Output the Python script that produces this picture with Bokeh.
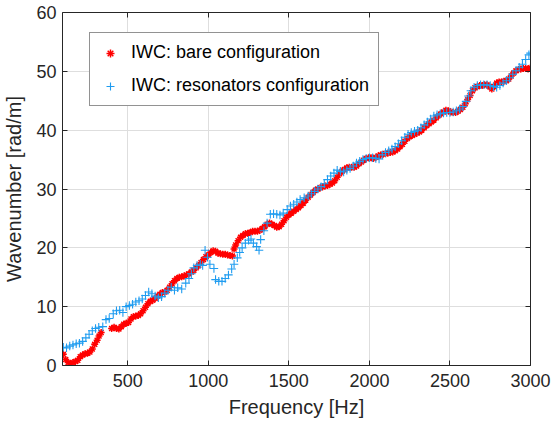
from bokeh.plotting import figure
from bokeh.models import Range1d, LinearAxis, FixedTicker, Legend, LegendItem, ColumnDataSource
from bokeh.embed import file_html
from bokeh.resources import INLINE

# Measured dispersion: wavenumber vs. frequency
bare_freq = [100, 115, 130, 145, 160, 175, 190, 205, 220, 235, 250, 265, 280, 295, 310, 322, 335,
             400, 415, 430, 445, 460, 475, 490, 505, 520, 535, 550, 565, 580, 595, 610, 625, 640, 655,
             670, 685, 700, 715, 730, 745, 760, 775, 790, 805, 820, 835, 850, 865, 880, 895, 910, 925,
             940, 955, 970, 985, 1000, 1015, 1030, 1045, 1060, 1075, 1090, 1105, 1120, 1135, 1150, 1160,
             1170, 1185, 1200, 1215, 1230, 1245, 1260, 1275, 1290, 1305, 1320, 1335, 1350, 1365, 1380,
             1395, 1410, 1425, 1440, 1455, 1470, 1485, 1500, 1515, 1530, 1545, 1560, 1575, 1590, 1605,
             1620, 1635, 1650, 1665, 1680, 1695, 1710, 1725, 1740, 1755, 1770, 1785, 1800, 1815, 1830,
             1845, 1860, 1875, 1890, 1905, 1920, 1935, 1950, 1965, 1980, 1995, 2010, 2025, 2040, 2055,
             2070, 2085, 2100, 2115, 2130, 2145, 2160, 2175, 2190, 2205, 2220, 2235, 2250, 2265, 2280,
             2295, 2310, 2325, 2340, 2355, 2370, 2385, 2400, 2415, 2430, 2445, 2460, 2475, 2490, 2505,
             2520, 2535, 2550, 2565, 2580, 2595, 2610, 2625, 2640, 2655, 2670, 2685, 2700, 2715, 2730,
             2745, 2760, 2775, 2790, 2805, 2820, 2835, 2850, 2865, 2880, 2895, 2910, 2925, 2940, 2955,
             2970, 2985, 3000]
bare_k = [1.9, 1.0, 0.5, 0.3, 0.5, 0.7, 0.9, 1.5, 1.8, 2.0, 2.1, 2.3, 2.8, 3.6, 4.3, 5.0, 5.6,
          6.3, 6.5, 6.3, 6.2, 6.6, 7.0, 7.2, 7.3, 7.9, 8.3, 8.4, 8.5, 8.8, 9.3, 9.9, 10.5, 10.9, 11.1,
          11.4, 11.8, 12.1, 12.4, 12.5, 12.8, 13.3, 13.9, 14.4, 14.8, 15.0, 15.1, 15.2, 15.4, 15.6, 15.9,
          16.2, 16.6, 17.0, 17.5, 18.0, 18.5, 18.8, 19.2, 19.5, 19.4, 19.1, 19.0, 18.9, 18.9, 18.8, 18.7,
          18.6, 19.8, 20.5, 21.2, 21.8, 22.1, 22.4, 22.5, 22.6, 22.8, 22.8, 22.8, 23.0, 23.3, 23.6, 24.0,
          24.2, 24.0, 23.8, 23.5, 23.6, 24.0, 24.6, 25.2, 25.6, 25.9, 26.2, 26.5, 26.8, 27.2, 27.6, 28.1,
          28.6, 29.0, 29.4, 29.8, 30.0, 30.2, 30.4, 30.5, 30.6, 30.8, 31.0, 31.4, 32.0, 32.6, 33.0, 33.3,
          33.6, 33.7, 33.7, 33.7, 33.9, 34.3, 34.6, 34.9, 35.2, 35.3, 35.3, 35.2, 35.4, 35.6, 35.8, 35.9,
          36.0, 36.1, 36.2, 36.3, 36.5, 36.8, 37.2, 37.6, 38.1, 38.6, 38.9, 39.1, 39.3, 39.5, 39.7, 40.0,
          40.4, 40.8, 41.1, 41.4, 41.7, 42.1, 42.5, 42.8, 43.1, 43.4, 43.3, 43.1, 43.0, 43.0, 43.2, 43.5,
          43.9, 44.5, 45.2, 45.9, 46.7, 47.2, 47.4, 47.6, 47.6, 47.7, 47.7, 47.4, 47.0, 47.4, 48.0, 48.2,
          48.2, 48.3, 48.4, 48.7, 49.2, 49.7, 50.1, 50.3, 50.4, 50.5, 50.5, 50.4, 50.6]

res_freq = [100, 120, 140, 160, 180, 200, 220, 240, 260, 280, 300, 320, 345, 365, 385, 410, 430, 450,
            470, 490, 510, 530, 550, 570, 590, 610, 630, 650, 670, 690, 710, 730, 750, 770, 790, 810,
            835, 860, 880, 895, 910, 930, 950, 965, 980, 995, 1010, 1035, 1045, 1065, 1085, 1105, 1125,
            1145, 1160, 1180, 1195, 1210, 1230, 1250, 1265, 1280, 1300, 1315, 1325, 1345, 1365, 1385,
            1405, 1425, 1445, 1465, 1490, 1510, 1530, 1550, 1570, 1595, 1620, 1640, 1660, 1680, 1700,
            1720, 1740, 1760, 1780, 1800, 1820, 1840, 1860, 1880, 1900, 1920, 1940, 1960, 1980, 2000,
            2020, 2040, 2060, 2080, 2100, 2120, 2140, 2160, 2180, 2200, 2220, 2240, 2260, 2280, 2300,
            2320, 2340, 2360, 2380, 2400, 2420, 2440, 2460, 2480, 2500, 2520, 2540, 2560, 2580, 2600,
            2615, 2630, 2650, 2670, 2690, 2710, 2730, 2750, 2770, 2790, 2810, 2830, 2850, 2870, 2890,
            2910, 2930, 2950, 2970, 2990, 3000]
res_k = [3.1, 3.0, 3.3, 3.5, 3.7, 3.8, 4.1, 4.7, 5.3, 5.9, 6.3, 6.5, 6.6, 7.8, 8.0, 8.8, 9.3, 9.4,
         9.0, 10.0, 10.2, 10.4, 10.8, 11.0, 11.3, 11.9, 12.5, 12.2, 11.8, 11.5, 11.7, 12.3, 12.8, 13.3,
         12.8, 13.2, 13.0, 14.0, 14.8, 15.6, 16.6, 17.0, 17.2, 17.0, 19.6, 18.4, 17.2, 16.5, 14.6, 14.3,
         14.3, 14.8, 15.4, 16.4, 17.2, 18.3, 19.2, 20.0, 20.8, 21.3, 21.5, 20.8, 20.2, 19.6, 21.4, 22.9,
         24.2, 25.7, 25.8, 25.7, 25.6, 25.9, 26.5, 27.1, 27.4, 27.8, 28.2, 28.5, 28.8, 29.2, 29.6, 30.0,
         30.4, 30.9, 31.6, 32.2, 32.7, 33.2, 33.0, 32.9, 33.2, 33.5, 33.9, 34.4, 34.7, 35.0, 35.2, 35.3,
         35.3, 35.2, 35.1, 35.8, 36.2, 36.5, 36.8, 37.2, 37.7, 38.2, 38.8, 39.3, 39.6, 39.8, 40.0, 40.4,
         40.9, 41.4, 41.9, 42.4, 42.6, 42.8, 42.9, 43.0, 43.0, 43.1, 43.3, 43.6, 44.0, 44.9, 45.8, 46.7,
         47.3, 47.6, 47.7, 47.7, 47.7, 47.6, 47.4, 47.3, 47.6, 48.0, 48.4, 48.9, 49.5, 50.1, 50.7, 51.2,
         52.0, 52.8, 53.1]

x_ticks = [500, 1000, 1500, 2000, 2500, 3000]
y_ticks = [0, 10, 20, 30, 40, 50, 60]

FONT = "Liberation Sans"
INK = "#262626"

p = figure(width=558, height=430, x_range=Range1d(95, 3000), y_range=Range1d(0, 60),
           output_backend="svg", toolbar_location=None,
           min_border_left=62, min_border_right=28, min_border_top=12, min_border_bottom=65)
p.outline_line_color = None
p.background_fill_color = "white"

# Primary axes
p.xaxis.ticker = FixedTicker(ticks=x_ticks)
p.yaxis.ticker = FixedTicker(ticks=y_ticks)
p.xaxis.axis_label = "Frequency [Hz]"
p.yaxis.axis_label = "Wavenumber [rad/m]"
for ax in (p.xaxis[0], p.yaxis[0]):
    ax.axis_line_color = INK
    ax.major_tick_line_color = INK
    ax.major_tick_in = 5
    ax.major_tick_out = 0
    ax.minor_tick_line_color = None
    ax.major_label_text_font = FONT
    ax.major_label_text_font_size = "18px"
    ax.major_label_text_color = INK
    ax.axis_label_text_font = FONT
    ax.axis_label_text_font_size = "20px"
    ax.axis_label_text_font_style = "normal"
    ax.axis_label_text_color = INK
p.xaxis.major_label_standoff = 8
p.xaxis.axis_label_standoff = 6
p.yaxis.major_label_standoff = 6
p.yaxis.axis_label_standoff = 8

# Box: mirrored axes on top and right with inward ticks and no labels
top = LinearAxis(ticker=FixedTicker(ticks=x_ticks))
right = LinearAxis(ticker=FixedTicker(ticks=y_ticks))
for ax in (top, right):
    ax.axis_line_color = INK
    ax.major_tick_line_color = INK
    ax.major_tick_in = 5
    ax.major_tick_out = 0
    ax.minor_tick_line_color = None
    ax.major_label_text_color = None
    ax.major_label_text_font_size = "1px"
    ax.major_label_standoff = 0
p.add_layout(top, "above")
p.add_layout(right, "right")

p.xgrid.grid_line_color = "#dedede"
p.ygrid.grid_line_color = "#dedede"

bare_src = ColumnDataSource(dict(f=bare_freq, k=bare_k))
res_src = ColumnDataSource(dict(f=res_freq, k=res_k))

r_bare = p.scatter("f", "k", source=bare_src, marker="asterisk", size=7,
                   line_color="#ff0000", line_width=1.5)
r_res = p.scatter("f", "k", source=res_src, marker="cross", size=8.5,
                  line_color="#1f9cf0", line_width=1.1)

legend = Legend(items=[LegendItem(label="IWC: bare configuration", renderers=[r_bare]),
                       LegendItem(label="IWC: resonators configuration", renderers=[r_res])],
                location=(27, 259))
legend.label_text_font = FONT
legend.label_text_font_size = "18px"
legend.label_text_color = "black"
legend.border_line_color = INK
legend.border_line_width = 1
legend.background_fill_color = "white"
legend.background_fill_alpha = 1
legend.padding = 9
legend.spacing = 12
legend.glyph_width = 22
legend.glyph_height = 20
legend.label_standoff = 10
legend.margin = 0
p.add_layout(legend, "center")

open("out.html", "w").write(file_html(p, INLINE))
